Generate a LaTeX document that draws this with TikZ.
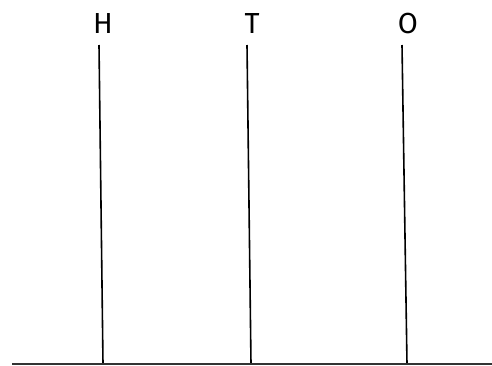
\documentclass[tikz,border=0pt]{standalone}
\usepackage{fontspec}
\setmainfont{Fira Sans}
\begin{document}
\begin{tikzpicture}[x=1pt,y=-1pt,
  lbl/.style={font=\fontsize{29}{30}\selectfont, inner sep=0pt, anchor=base},
  pole/.style={line width=1.6pt, black},
  ground/.style={line width=1.6pt, black!80}]
\useasboundingbox (0,0) rectangle (492,365);
\node[lbl] (h) at (103,33) {H};
\node[lbl] (t) at (252,33) {T};
\node[lbl] (o) at (408,33) {O};
\coordinate (ht) at (99,45);
\coordinate (hb) at (103,364);
\coordinate (tt) at (247,45);
\coordinate (tb) at (251,364);
\coordinate (ot) at (402,45);
\coordinate (ob) at (407,364);
\coordinate (gl) at (12,364);
\coordinate (gr) at (492,364);
\draw[pole] (ht) -- (hb);
\draw[pole] (tt) -- (tb);
\draw[pole] (ot) -- (ob);
\draw[ground] (gl) -- (gr);
\end{tikzpicture}
\end{document}
